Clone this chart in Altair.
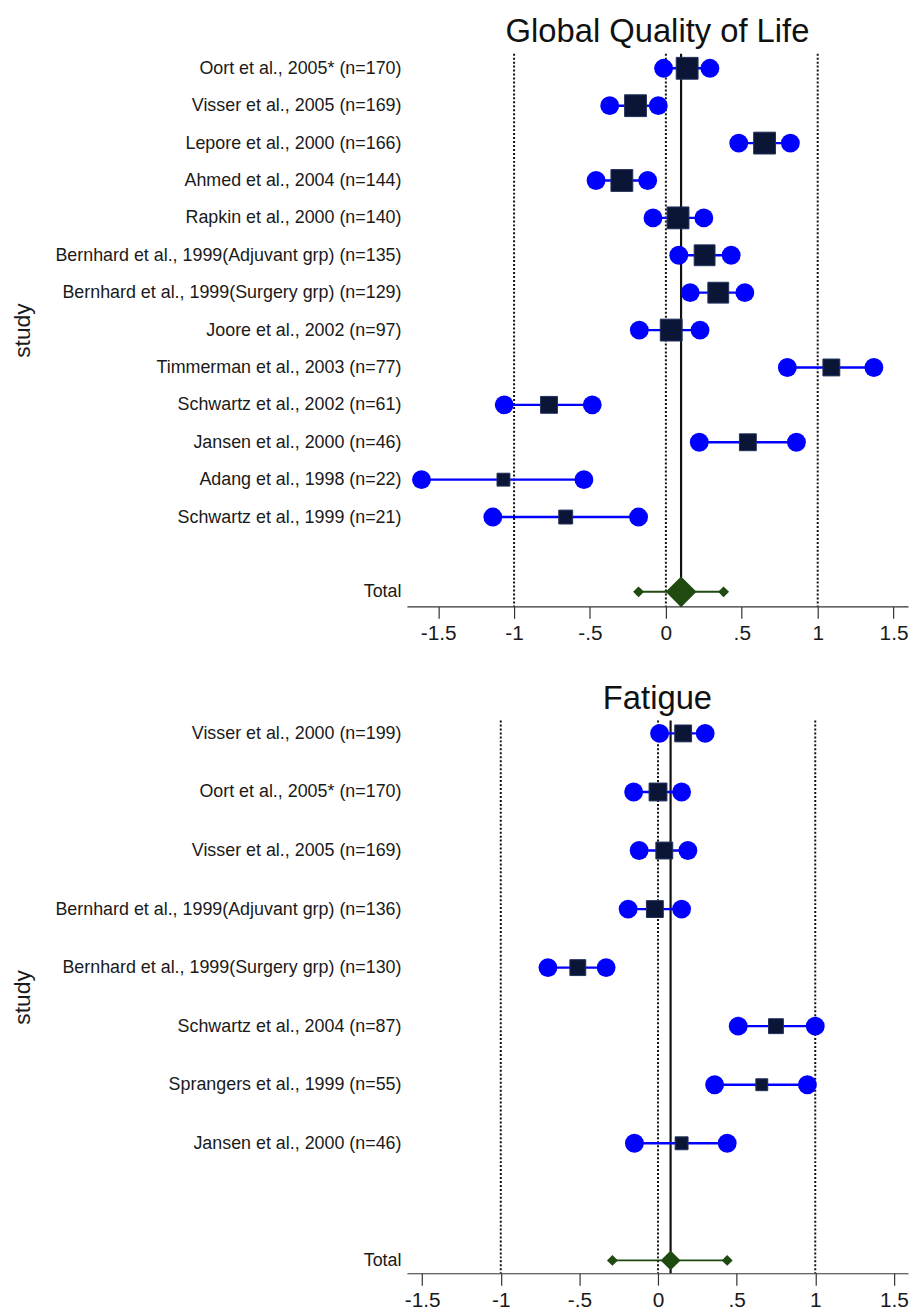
import altair as alt
import pandas as pd

# ---------------- data ----------------
qol_studies = [
    "Oort et al., 2005* (n=170)",
    "Visser et al., 2005 (n=169)",
    "Lepore et al., 2000 (n=166)",
    "Ahmed et al., 2004 (n=144)",
    "Rapkin et al., 2000 (n=140)",
    "Bernhard et al., 1999(Adjuvant grp) (n=135)",
    "Bernhard et al., 1999(Surgery grp) (n=129)",
    "Joore et al., 2002 (n=97)",
    "Timmerman et al., 2003 (n=77)",
    "Schwartz et al., 2002 (n=61)",
    "Jansen et al., 2000 (n=46)",
    "Adang et al., 1998 (n=22)",
    "Schwartz et al., 1999 (n=21)",
]
qol_est = [0.14, -0.20, 0.65, -0.29, 0.08, 0.255, 0.345, 0.035, 1.09, -0.77, 0.54, -1.07, -0.66]
qol_lo = [-0.015, -0.37, 0.48, -0.46, -0.085, 0.085, 0.16, -0.175, 0.80, -1.065, 0.22, -1.61, -1.14]
qol_hi = [0.29, -0.05, 0.82, -0.12, 0.25, 0.43, 0.52, 0.225, 1.37, -0.485, 0.86, -0.54, -0.18]
qol_weight = [22, 22, 22, 22, 22, 21, 21, 22, 17, 17, 17, 13, 14]
qol_total_est, qol_total_lo, qol_total_hi, qol_total_weight = 0.10, -0.18, 0.38, 31
qol_xdomain = [-1.706, 1.595]

fat_studies = [
    "Visser et al., 2000 (n=199)",
    "Oort et al., 2005* (n=170)",
    "Visser et al., 2005 (n=169)",
    "Bernhard et al., 1999(Adjuvant grp) (n=136)",
    "Bernhard et al., 1999(Surgery grp) (n=130)",
    "Schwartz et al., 2004 (n=87)",
    "Sprangers et al., 1999 (n=55)",
    "Jansen et al., 2000 (n=46)",
]
fat_est = [0.16, 0.0, 0.04, -0.02, -0.51, 0.75, 0.66, 0.15]
fat_lo = [0.01, -0.155, -0.12, -0.19, -0.70, 0.51, 0.36, -0.15]
fat_hi = [0.30, 0.15, 0.19, 0.15, -0.33, 1.00, 0.95, 0.44]
fat_weight = [17, 18, 17, 17, 16, 15, 12, 13]
fat_total_est, fat_total_lo, fat_total_hi, fat_total_weight = 0.08, -0.29, 0.44, 20
fat_xdomain = [-1.597, 1.59]

x_ticks = [-1.5, -1, -0.5, 0, 0.5, 1, 1.5]
x_tick_labels = ["-1.5", "-1", "-.5", "0", ".5", "1", "1.5"]
ref_lines = [-1, 0, 1]

FONT = "Liberation Sans"
BLUE = "#0000ff"
NAVY = "#0b1636"
GREEN = "#1f4a10"
TXT = "#1a1a1a"

label_expr = (
    "[" + ",".join("'%s'" % s for s in x_tick_labels) + "][indexof(["
    + ",".join(repr(float(v)) for v in x_ticks) + "], datum.value)]"
)

W, H = 505, 557


def panel(title, studies, est, lo, hi, w, t_est, t_lo, t_hi, t_w, xdomain, ypad):
    order = studies + [" ", "Total"]
    df = pd.DataFrame({"study": studies, "est": est, "lo": lo, "hi": hi, "w": w})
    tot = pd.DataFrame({"study": ["Total"], "est": [t_est], "lo": [t_lo],
                        "hi": [t_hi], "w": [t_w]})
    ref = pd.DataFrame({"v": ref_lines})
    overall = pd.DataFrame({"v": [t_est]})

    x_axis = alt.Axis(values=x_ticks, labelExpr=label_expr, grid=False, title=None,
                      domainColor="#333333", domainWidth=1.2, tickColor="#333333",
                      tickWidth=1.2, tickSize=12, labelPadding=4, labelFontSize=21,
                      labelFont=FONT, labelColor=TXT, labelFlush=False)
    xscale = alt.Scale(domain=xdomain, nice=False, zero=False)
    y_axis = alt.Axis(title="study", domain=False, ticks=False, grid=False,
                      labelFontSize=18, labelFont=FONT, labelColor=TXT, labelPadding=6,
                      labelLimit=0,
                      titleFontSize=23, titleFont=FONT, titleFontWeight="normal",
                      titleColor=TXT, titleAngle=270, titleX=-380, titleY=H / 2,
                      titleBaseline="alphabetic", titleAlign="center")
    yscale = alt.Scale(type="point", domain=order, padding=ypad)
    sscale = alt.Scale(type="pow", exponent=2, domain=[0, 1], range=[0, 1])

    def X(field):
        return alt.X(field, type="quantitative", scale=xscale, axis=x_axis)

    Y = alt.Y("study:N", scale=yscale, axis=y_axis)

    dotted = alt.Chart(ref).mark_rule(color="#111111", strokeWidth=2,
                                      strokeDash=[2, 2]).encode(x=X("v"))
    solid = alt.Chart(overall).mark_rule(color="#111111", strokeWidth=2.2).encode(x=X("v"))

    ci = alt.Chart(df).mark_rule(color=BLUE, strokeWidth=2.4).encode(
        x=X("lo"), x2="hi", y=Y)
    c_lo = alt.Chart(df).mark_point(shape="circle", filled=True, color=BLUE,
                                    opacity=1, size=361).encode(x=X("lo"), y=Y)
    c_hi = alt.Chart(df).mark_point(shape="circle", filled=True, color=BLUE,
                                    opacity=1, size=361).encode(x=X("hi"), y=Y)
    sq = alt.Chart(df).mark_point(shape="square", filled=True, color=NAVY, opacity=1,
                                  stroke="#22305c", strokeWidth=1).encode(
        x=X("est"), y=Y, size=alt.Size("w:Q", scale=sscale, legend=None))

    t_line = alt.Chart(tot).mark_rule(color=GREEN, strokeWidth=2).encode(
        x=X("lo"), x2="hi", y=Y)
    t_lo_pt = alt.Chart(tot).mark_point(shape="diamond", filled=True, color=GREEN,
                                        opacity=1, size=121).encode(x=X("lo"), y=Y)
    t_hi_pt = alt.Chart(tot).mark_point(shape="diamond", filled=True, color=GREEN,
                                        opacity=1, size=121).encode(x=X("hi"), y=Y)
    t_est_pt = alt.Chart(tot).mark_point(shape="diamond", filled=True, color=GREEN,
                                         opacity=1).encode(
        x=X("est"), y=Y, size=alt.Size("w:Q", scale=sscale, legend=None))

    return alt.layer(dotted, solid, ci, c_lo, c_hi, sq, t_line, t_lo_pt, t_hi_pt,
                     t_est_pt).properties(
        width=W, height=H,
        title=alt.TitleParams(title, fontSize=33, fontWeight="normal", font=FONT,
                              color="#111111", anchor="middle", offset=4))


top = panel("Global Quality of Life", qol_studies, qol_est, qol_lo, qol_hi, qol_weight,
            qol_total_est, qol_total_lo, qol_total_hi, qol_total_weight,
            qol_xdomain, 0.39)
bottom = panel("Fatigue", fat_studies, fat_est, fat_lo, fat_hi, fat_weight,
               fat_total_est, fat_total_lo, fat_total_hi, fat_total_weight,
               fat_xdomain, 0.22)

chart = alt.vconcat(top, bottom, spacing=39).properties(
    padding={"left": 4, "top": 2, "right": 2, "bottom": 0}
).configure_view(stroke=None)

chart.save("out.html", embed_options={"renderer": "svg", "actions": False})
